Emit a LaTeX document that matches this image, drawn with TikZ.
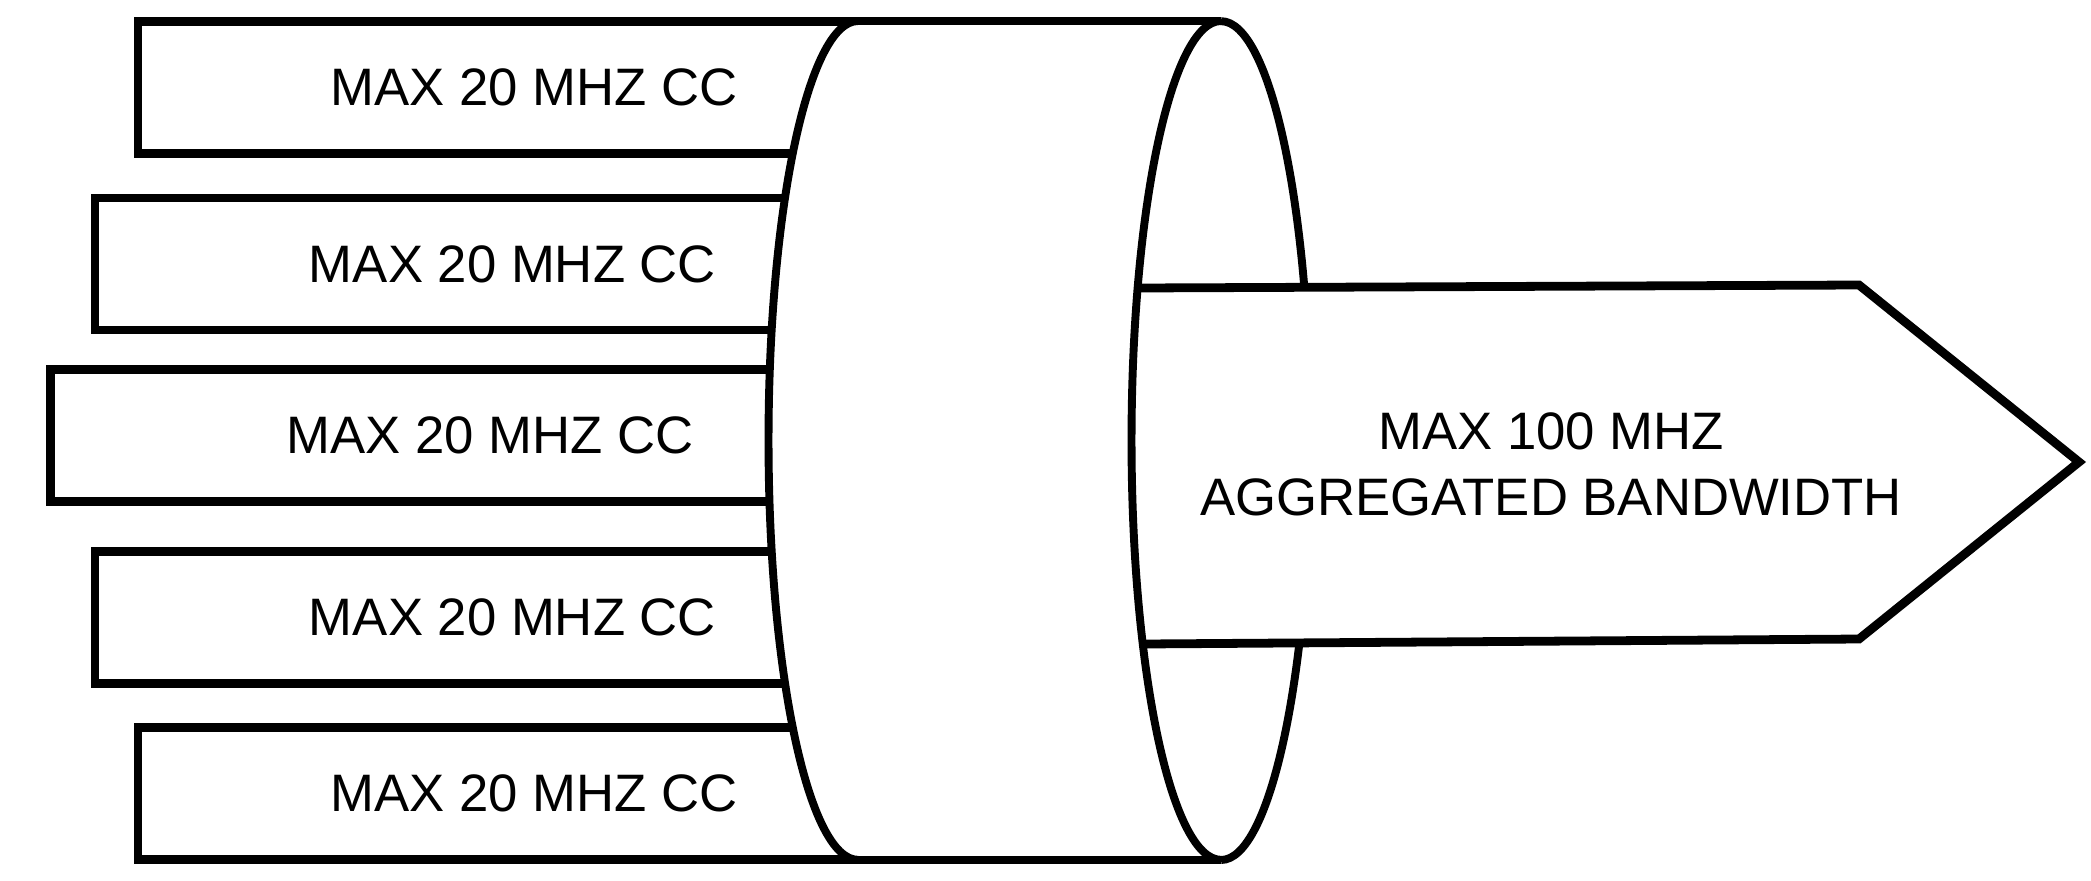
\documentclass[tikz,border=0pt]{standalone}
\usepackage{fontspec}
\setmainfont{Liberation Sans}
\begin{document}
\begin{tikzpicture}[x=0.02cm, y=0.02cm,
    ccbox/.style={draw, fill=white, line width=5pt, inner sep=0pt,
        minimum height=2.64cm, font=\fontsize{30}{36}\selectfont},
    rim/.style={line width=4.5pt},
    edge/.style={line width=5pt}]
\useasboundingbox (0,0) rectangle (2091,-880);

% component carriers
\foreach \i/\x/\w/\y in {1/534/15.84/87.5, 2/512.5/16.7/264, 3/490.25/17.59/435.5, 4/512.5/16.7/617.5, 5/534/15.84/793.5}
{
    \node[ccbox, minimum width=\w cm] (cc\i) at (\x,-\y) {MAX 20 MHZ CC};
}

% pipe
\fill[white] (858,-21) arc[start angle=90, end angle=270, x radius=1.79cm, y radius=8.39cm]
    -- (1221,-860) arc[start angle=-90, end angle=90, x radius=1.79cm, y radius=8.39cm] -- cycle;
\draw[rim] (858,-21) arc[start angle=90, end angle=270, x radius=1.79cm, y radius=8.39cm];
\draw[edge] (858,-21) -- (1221,-21);
\draw[edge] (858,-860) -- (1221,-860);
\draw[rim] (1221,-860) arc[start angle=-90, end angle=90, x radius=1.79cm, y radius=8.39cm];

% aggregated arrow
\coordinate (topin) at (1137,-288);
\coordinate (topout) at (1859,-285);
\coordinate (tip) at (2079,-462);
\coordinate (botout) at (1859,-639);
\coordinate (botin) at (1143,-644);
\fill[white] (topin) -- (topout) -- (tip) -- (botout) -- (botin) -- cycle;
\draw[edge] (topin) -- (topout) -- (tip) -- (botout) -- (botin);
\draw[rim] (1221,-21) arc[start angle=90, end angle=270, x radius=1.79cm, y radius=8.39cm];

\node[align=center, font=\fontsize{30}{37.5}\selectfont] (agg) at (1551,-464)
    {MAX 100 MHZ\\AGGREGATED BANDWIDTH};

\end{tikzpicture}
\end{document}
